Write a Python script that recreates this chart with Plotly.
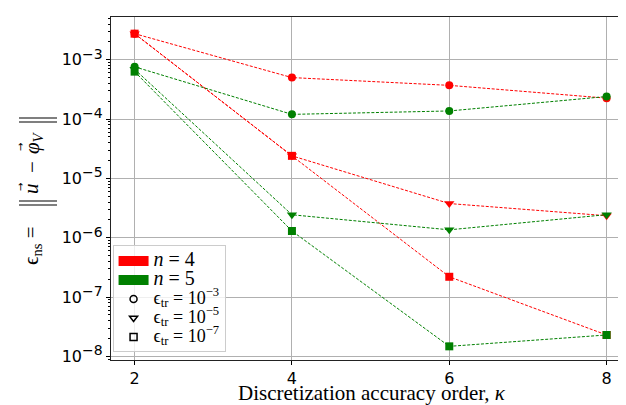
import plotly.graph_objects as go

kappa = [2, 4, 6, 8]

# n = 4 (red)
red_tr3 = [2.75e-3, 5.0e-4, 3.7e-4, 2.25e-4]
red_tr5 = [2.75e-3, 2.4e-5, 3.77e-6, 2.35e-6]
red_tr7 = [2.75e-3, 2.4e-5, 2.2e-7, 2.3e-8]
# n = 5 (green)
green_tr3 = [7.6e-4, 1.2e-4, 1.37e-4, 2.4e-4]
green_tr5 = [6.9e-4, 2.44e-6, 1.36e-6, 2.45e-6]
green_tr7 = [6.3e-4, 1.3e-6, 1.48e-8, 2.3e-8]

ytick_vals = [1e-3, 1e-4, 1e-5, 1e-6, 1e-7, 1e-8]
ytick_exp = ["−3", "−4", "−5", "−6", "−7", "−8"]
ytick_text = ['10<sup><span style="font-size:14px">%s</span></sup>' % e for e in ytick_exp]
xtick_vals = [2, 4, 6, 8]

RED = "#ff0000"
GREEN = "#008000"
DASH = "3px,1.6px"

W, H = 626, 405
ML, MR, MT, MB = 103, 3, 9, 53
PW, PH = W - ML - MR, H - MT - MB


def px2paper(px, py):
    return (px - ML) / PW, (H - MB - py) / PH


fig = go.Figure()

series = [
    (red_tr3, RED, "circle", 8),
    (red_tr5, RED, "triangle-down", 9),
    (red_tr7, RED, "square", 8),
    (green_tr3, GREEN, "circle", 8),
    (green_tr5, GREEN, "triangle-down", 9),
    (green_tr7, GREEN, "square", 8),
]
for vals, col, sym, sz in series:
    fig.add_trace(go.Scatter(
        x=kappa, y=vals, mode="lines+markers",
        line=dict(color=col, width=1, dash=DASH),
        marker=dict(symbol=sym, size=sz, color=col, line=dict(width=0)),
        showlegend=False,
    ))

# legend entries
fig.add_trace(go.Scatter(x=[None], y=[None], mode="lines",
                         line=dict(color=RED, width=12),
                         name='<span style="font-size:20px"><i>n</i> = 4</span>'))
fig.add_trace(go.Scatter(x=[None], y=[None], mode="lines",
                         line=dict(color=GREEN, width=12),
                         name='<span style="font-size:20px"><i>n</i> = 5</span>'))
for sym, e in [("circle-open", "−3"), ("triangle-down-open", "−5"), ("square-open", "−7")]:
    fig.add_trace(go.Scatter(x=[None], y=[None], mode="markers",
                             marker=dict(symbol=sym, size=7, color="black",
                                         line=dict(width=1.5, color="black")),
                             name='<span style="font-size:18px">ϵ<sub>tr</sub> = 10<sup>%s</sup></span>' % e))


def ann(text, px, py, size, family="Liberation Serif", angle=-90):
    x, y = px2paper(px, py)
    fig.add_annotation(text=text, xref="paper", yref="paper", x=x, y=y,
                       textangle=angle, showarrow=False,
                       font=dict(family=family, size=size, color="black"),
                       xanchor="center", yanchor="middle")


# y-axis title, built piece by piece (vertical)
ann("ϵ<sub>ns</sub> =", 24, 238, 21)
ann("<i>u</i>", 23, 181, 21)
ann("→", 12, 179, 10, "DejaVu Sans")
ann("−", 24, 159, 21)
ann("<i>φ</i><sub><i>V</i></sub>", 25, 135, 21)
ann("→", 12, 139, 10, "DejaVu Sans")
# norm bars drawn as thin lines
for yb in [110, 114, 193, 197]:
    x0, y0 = px2paper(11, yb)
    x1, _ = px2paper(49, yb)
    fig.add_shape(type="line", xref="paper", yref="paper",
                  x0=x0, x1=x1, y0=y0, y1=y0,
                  line=dict(color="black", width=1.2))

# x-axis title
ann("Discretization accuracy order, <i>κ</i>", 363.5, 385, 21, angle=0)

fig.update_layout(
    width=W, height=H,
    margin=dict(l=ML, r=MR, t=MT, b=MB),
    plot_bgcolor="white", paper_bgcolor="white",
    font=dict(family="DejaVu Sans", size=16, color="black"),
    legend=dict(
        x=0.003, y=0.022, xanchor="left", yanchor="bottom",
        bgcolor="rgba(255,255,255,0.8)", bordercolor="#cccccc", borderwidth=1,
        font=dict(family="Liberation Serif", size=12),
        itemwidth=30, tracegroupgap=0,
    ),
    xaxis=dict(
        range=[1.7, 8.31], tickvals=xtick_vals,
        showgrid=True, gridcolor="#b0b0b0", gridwidth=1,
        showline=True, mirror=True, linecolor="#222222", linewidth=1.3,
        ticks="outside", ticklen=4, tickcolor="black",
        zeroline=False,
    ),
    yaxis=dict(
        type="log", range=[-8.06, -2.28],
        tickvals=ytick_vals, ticktext=ytick_text,
        showgrid=True, gridcolor="#b0b0b0", gridwidth=1,
        showline=True, mirror=True, linecolor="#222222", linewidth=1.3,
        ticks="outside", ticklen=4, tickcolor="black",
        minor=dict(ticks="outside", ticklen=2, tickcolor="black", showgrid=False,
                   tickvals=[m * 10.0 ** e for e in range(-9, -2) for m in range(2, 10)]),
        zeroline=False,
    ),
)

fig.write_html("out.html")
